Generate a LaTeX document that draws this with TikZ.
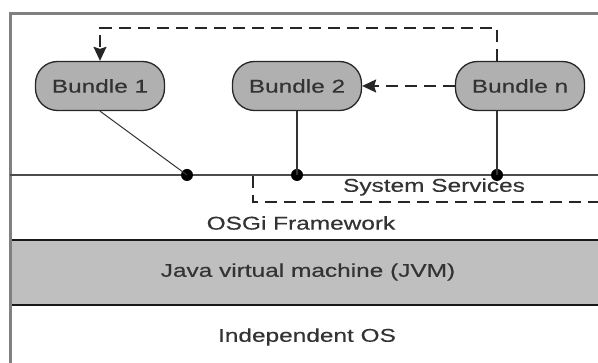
\documentclass[tikz,border=0pt]{standalone}
\usepackage{fontspec}
\setmainfont[FakeStretch=1.32,FakeBold=0.4]{Liberation Sans}
\usetikzlibrary{arrows.meta}

\tikzset{
  bundle/.style={draw=black!85, line width=1.3pt, fill=black!31, rounded corners=22pt,
    minimum width=129pt, minimum height=49pt, inner sep=0pt, text=black!80,
    font=\fontsize{18.5pt}{20pt}\selectfont},
  label/.style={text=black!80, inner sep=0pt, font=\fontsize{18.5pt}{20pt}\selectfont},
  dot/.style={circle, fill=black, inner sep=0pt, minimum size=12pt},
  link/.style={draw=black!80, line width=1.5pt},
  call/.style={draw=black!85, line width=1.6pt, dash pattern=on 12pt off 7pt,
    -{Stealth[length=14pt,width=13pt,inset=2pt]}},
  frameline/.style={draw=black!50, line width=3pt},
  layerline/.style={draw=black!90, line width=1.6pt}
}

\begin{document}
\begin{tikzpicture}[x=1pt, y=-1pt]
  \useasboundingbox (0,0) rectangle (598,363);

  % JVM layer band
  \fill[black!25] (10,240) rectangle (598,305);
  \draw[layerline] (10,240) -- (598,240);
  \draw[layerline] (10,305) -- (598,305);

  % outer frame (top and left)
  \draw[frameline] (10,13.5) -- (598,13.5);
  \draw[frameline] (10,12) -- (10,363);

  % bundles
  \node[bundle] (b1) at (100,86) {Bundle 1};
  \node[bundle] (b2) at (297,86) {Bundle 2};
  \node[bundle] (bn) at (520,86) {Bundle n};

  % service registry bus
  \coordinate (busL) at (10,175);
  \coordinate (busR) at (598,175);
  \draw[draw=black!70, line width=1.4pt] (busL) -- (busR);

  \node[dot] (d1) at (187,175) {};
  \node[dot] (d2) at (297,175) {};
  \node[dot] (dn) at (497,175) {};

  \draw[draw=black!80, line width=1pt] (b1.south) -- (d1.center);
  \draw[link] (b2.south) -- (d2.center);
  \draw[link] (bn.south -| dn) -- (dn.center);

  % system services region
  \coordinate (ssTop) at (253,176);
  \coordinate (ssCorner) at (253,202);
  \coordinate (ssRight) at (598,202);
  \draw[draw=black!85, line width=1.6pt, dash pattern=on 12pt off 7pt]
    (ssTop) -- (ssCorner) -- (ssRight);
  \node[label] (ss) at (434,187) {System Services};

  % service calls between bundles
  \draw[call] (bn.west) -- (b2.east);
  \coordinate (loopR) at (497,28);
  \coordinate (loopL) at (100,28);
  \draw[call] (bn.north -| dn) -- (loopR) -- (loopL) -- (b1.north);

  % layer labels
  \node[label] (osgi) at (301,223) {OSGi Framework};
  \node[label] (jvm) at (308,272) {Java virtual machine (JVM)};
  \node[label] (os) at (307,337) {Independent OS};
\end{tikzpicture}
\end{document}
